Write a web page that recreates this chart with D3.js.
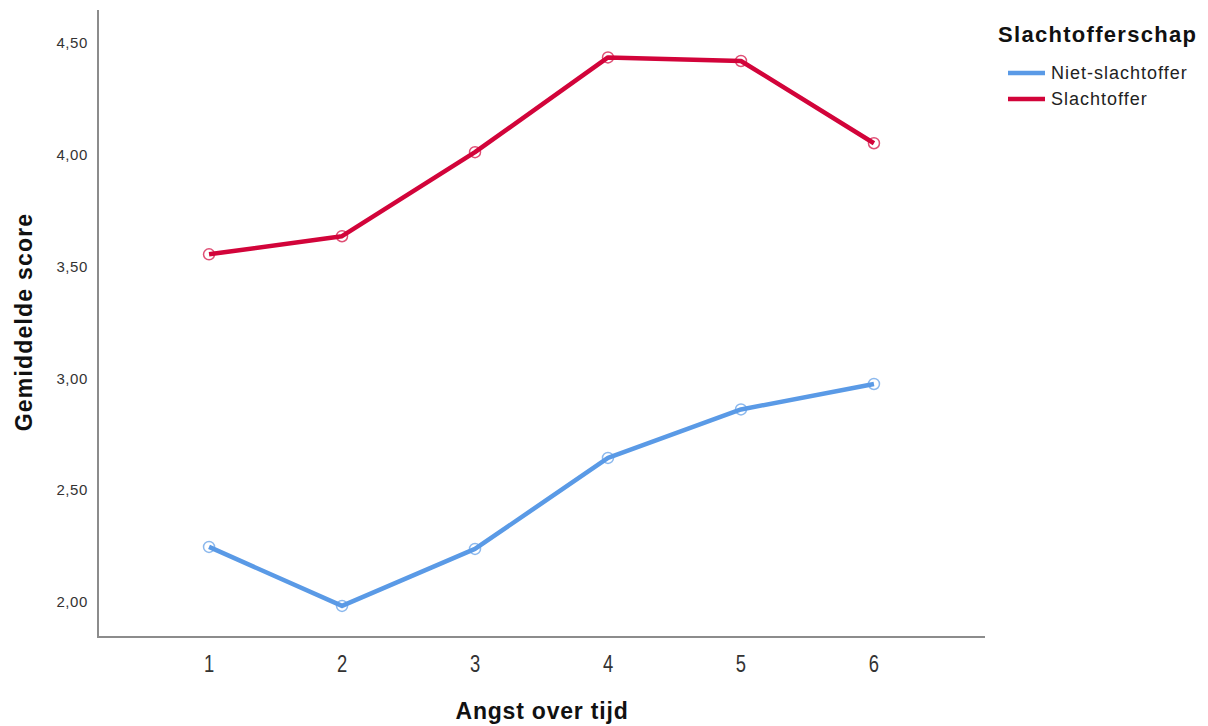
<!DOCTYPE html>
<html><head><meta charset="utf-8">
<script src="https://cdn.jsdelivr.net/npm/d3@7"></script>
<style>body{margin:0;background:#fff}svg{display:block}text{font-family:"Liberation Sans",Arial,sans-serif}</style>
</head><body>
<svg id="c" width="1208" height="726"></svg>
<script>
const categories = [1, 2, 3, 4, 5, 6];
const nietSlachtoffer = [2.246, 1.982, 2.237, 2.644, 2.861, 2.975];
const slachtoffer = [3.555, 3.636, 4.012, 4.436, 4.420, 4.052];
const yTicks = [2.0, 2.5, 3.0, 3.5, 4.0, 4.5];
const seriesNames = ["Niet-slachtoffer", "Slachtoffer"];
const seriesColors = ["#5a9ae6", "#d2043a"];

const svg = d3.select("#c");
const x = d3.scaleLinear().domain([0.165, 6.835]).range([98, 985]);
const y = d3.scaleLinear().domain([1.843, 4.648]).range([637, 10]);

// axes lines
svg.append("line").attr("x1",98).attr("x2",98).attr("y1",10).attr("y2",637).attr("stroke","#8c8c8c").attr("stroke-width",2);
svg.append("line").attr("x1",97).attr("x2",985).attr("y1",637).attr("y2",637).attr("stroke","#8c8c8c").attr("stroke-width",2);

// y tick labels
svg.selectAll(".yt").data(yTicks).join("text")
  .attr("x",88).attr("y",d=>y(d)).attr("dy","0.35em").attr("text-anchor","end")
  .attr("font-size",15).attr("letter-spacing",0.6).attr("fill","#333")
  .text(d=>d3.format(".2f")(d).replace(".",","));

// x tick labels
svg.selectAll(".xt").data(categories).join("text")
  .attr("transform",d=>`translate(${x(d)},672) scale(0.8,1)`)
  .attr("text-anchor","middle").attr("font-size",23).attr("fill","#333")
  .text(d=>d);

// axis titles
svg.append("text").attr("x",542).attr("y",719).attr("text-anchor","middle")
  .attr("font-size",23).attr("letter-spacing",0.8).attr("font-weight","bold").attr("fill","#111").text("Angst over tijd");
svg.append("text").attr("transform","translate(32,322) rotate(-90)").attr("text-anchor","middle")
  .attr("font-size",23).attr("letter-spacing",1.2).attr("font-weight","bold").attr("fill","#111").text("Gemiddelde score");

// lines
const line = d3.line().x((d,i)=>x(categories[i])).y(d=>y(d));
[nietSlachtoffer, slachtoffer].forEach((s,k)=>{
  svg.append("path").datum(s).attr("d",line).attr("fill","none")
    .attr("stroke",seriesColors[k]).attr("stroke-width",4.5).attr("stroke-linejoin","round");
  svg.selectAll(".m"+k).data(s).join("circle")
    .attr("cx",(d,i)=>x(categories[i])).attr("cy",d=>y(d)).attr("r",5.5)
    .attr("fill","none").attr("stroke",seriesColors[k]).attr("stroke-width",1.5).attr("opacity",0.7);
});

// legend
svg.append("text").attr("x",998).attr("y",42).attr("font-size",22).attr("letter-spacing",1.3).attr("font-weight","bold").attr("fill","#111").text("Slachtofferschap");
seriesNames.forEach((n,k)=>{
  const yy = 73 + k*26;
  svg.append("line").attr("x1",1008).attr("x2",1045).attr("y1",yy).attr("y2",yy)
    .attr("stroke",seriesColors[k]).attr("stroke-width",4.5);
  svg.append("text").attr("x",1051).attr("y",yy).attr("dy","0.35em").attr("font-size",18).attr("letter-spacing",1).attr("fill","#222").text(n);
});
</script>
</body></html>
